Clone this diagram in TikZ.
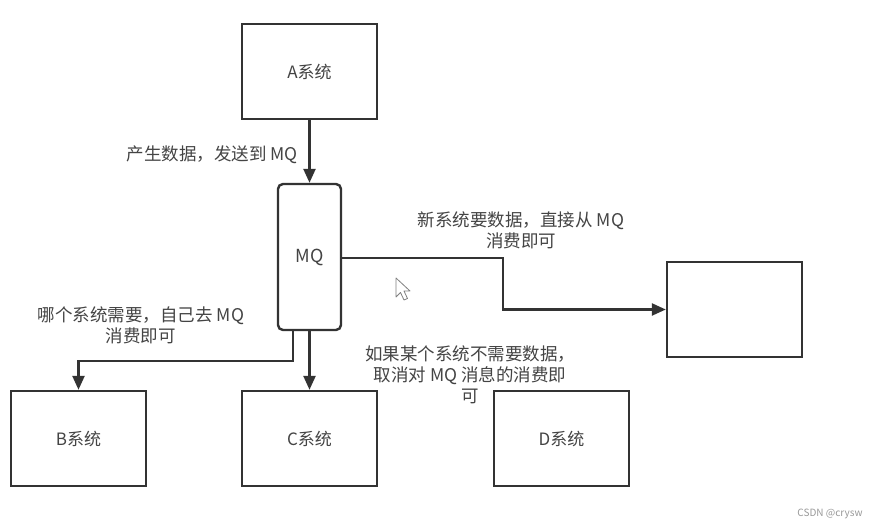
\documentclass[tikz,border=0pt]{standalone}
\usepackage{fontspec}
\setmainfont{Noto Sans CJK SC}
\usetikzlibrary{arrows.meta}
\definecolor{ln}{HTML}{333333}
\definecolor{tx}{HTML}{444444}
\tikzset{
  sysbox/.style={draw=ln, line width=2.4pt, minimum width=135pt, minimum height=95pt, inner sep=0pt, text=tx, font=\fontsize{17}{20}\selectfont},
  mqbox/.style={draw=ln, line width=2.4pt, rounded corners=5pt, minimum width=63pt, minimum height=146pt, inner sep=0pt, text=tx, font=\fontsize{18}{20}\selectfont},
  conn/.style={draw=ln, line width=2.4pt, -{Triangle[length=14pt,width=12pt]}},
  lbl/.style={text=tx, align=center, font=\fontsize{17.5}{21}\selectfont, inner sep=0pt}
}
\begin{document}
\begin{tikzpicture}[x=1pt,y=-1pt]
\useasboundingbox[fill=white] (0,0) rectangle (876,529);
\node[sysbox] (A) at (309.5,71.5) {A系统};
\node[mqbox] (MQ) at (309.5,257) {MQ};
\node[sysbox] (B) at (78.5,438.5) {B系统};
\node[sysbox] (C) at (309.5,438.5) {C系统};
\node[sysbox] (D) at (561.5,438.5) {D系统};
\node[sysbox] (N) at (734.5,309.5) {};
\coordinate (mqb) at (293,330);
\coordinate (mqr) at (341,258);
\draw[conn] (A) -- (MQ);
\draw[conn] (MQ.south) -- (C.north);
\draw[conn] (mqb) -- (293,361) -| (B.north);
\draw[conn] (mqr) -- (503,258) |- (N.west);
\node[lbl, anchor=east] (t1) at (298,155) {产生数据，发送到 MQ};
\node[lbl] (t2) at (141,325) {哪个系统需要，自己去 MQ\\消费即可};
\node[lbl] (t3) at (521,230) {新系统要数据，直接从 MQ\\消费即可};
\node[lbl] (t4) at (470,375) {如果某个系统不需要数据，\\取消对 MQ 消息的消费即\\可};
\node[text=gray!80, font=\fontsize{10}{12}\selectfont, inner sep=0pt] (wm) at (830,514) {CSDN @crysw};
\draw[gray, line width=0.8pt, fill=white, line join=round] (396,278) -- (396,297) -- (400.5,292.5) -- (404,300) -- (407.5,298.5) -- (404,291) -- (410,291) -- cycle;
\end{tikzpicture}
\end{document}
